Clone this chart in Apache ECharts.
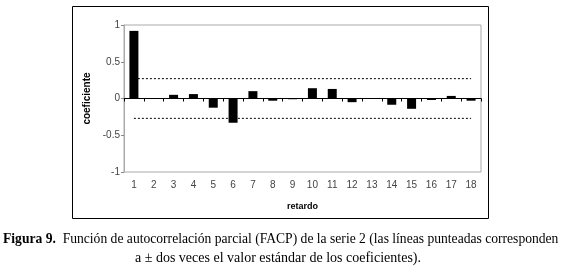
<!DOCTYPE html>
<html>
<head>
<meta charset="utf-8">
<script src="https://cdn.jsdelivr.net/npm/echarts@6/dist/echarts.min.js"></script>
<style>
  html, body { margin: 0; padding: 0; background: #fff; }
  #chart { width: 572px; height: 268px; }
</style>
</head>
<body>
<div id="chart"></div>
<script>
// retardos (lags) 1..18
const lags = ['1', '2', '3', '4', '5', '6', '7', '8', '9', '10', '11', '12', '13', '14', '15', '16', '17', '18']
// coeficientes FACP
const facp = [0.92, 0, 0.05, 0.06, -0.125, -0.33, 0.10, -0.03, -0.01, 0.14, 0.13, -0.05, 0, -0.085, -0.14, -0.02, 0.035, -0.03]
// límites ± 2 errores estándar
const upperLimit = [0.27, 0.27, 0.27, 0.27, 0.27, 0.27, 0.27, 0.27, 0.27, 0.27, 0.27, 0.27, 0.27, 0.27, 0.27, 0.27, 0.27, 0.27]
const lowerLimit = [-0.27, -0.27, -0.27, -0.27, -0.27, -0.27, -0.27, -0.27, -0.27, -0.27, -0.27, -0.27, -0.27, -0.27, -0.27, -0.27, -0.27, -0.27]

const chart = echarts.init(document.getElementById('chart'))

const option = {
  animation: false,
  backgroundColor: '#fff',
  grid: {
    left: 124,
    top: 25,
    right: 91,
    bottom: 96,
    show: true,
    borderColor: '#aaa',
    borderWidth: 1,
    backgroundColor: '#fff'
  },
  xAxis: [
    {
      type: 'category',
      data: lags,
      position: 'bottom',
      axisLine: { show: false, onZero: false },
      axisTick: { show: false },
      axisLabel: { color: '#444', fontSize: 10, fontFamily: 'Liberation Sans Narrow, Arial, sans-serif', margin: 8, interval: 0 },
      name: 'retardo',
      nameLocation: 'middle',
      nameGap: 30,
      nameTextStyle: { color: '#000', fontSize: 9, fontWeight: 'bold', fontFamily: 'Liberation Sans, Arial, sans-serif' }
    },
    {
      type: 'category',
      data: lags,
      position: 'top',
      axisLine: { show: true, onZero: true, lineStyle: { color: '#000', width: 1 } },
      axisTick: { show: true, inside: true, length: 3, lineStyle: { color: '#000' } },
      axisLabel: { show: false }
    }
  ],
  yAxis: {
    type: 'value',
    min: -1,
    max: 1,
    interval: 0.5,
    axisLine: { show: true, lineStyle: { color: '#aaa' } },
    axisTick: { show: true, length: 3, lineStyle: { color: '#888' } },
    splitLine: { show: false },
    axisLabel: { color: '#444', fontSize: 10, fontFamily: 'Liberation Sans Narrow, Arial, sans-serif', margin: 4 },
    name: 'coeficiente',
    nameLocation: 'middle',
    nameGap: 26,
    nameTextStyle: { color: '#000', fontSize: 10, fontWeight: 'bold', fontFamily: 'Liberation Sans, Arial, sans-serif' }
  },
  series: [
    {
      type: 'bar',
      data: facp,
      xAxisIndex: 0,
      barWidth: 9,
      itemStyle: { color: '#000' }
    },
    {
      type: 'line',
      data: upperLimit,
      xAxisIndex: 0,
      symbol: 'none',
      lineStyle: { color: '#000', width: 1, type: [2, 2] }
    },
    {
      type: 'line',
      data: lowerLimit,
      xAxisIndex: 0,
      symbol: 'none',
      lineStyle: { color: '#000', width: 1, type: [2, 2] }
    }
  ],
  graphic: [
    {
      type: 'rect',
      shape: { x: 72.5, y: 6.5, width: 416, height: 212 },
      style: { fill: null, stroke: '#000', lineWidth: 1 },
      z: 100
    },
    {
      type: 'text',
      left: 3,
      top: 232,
      style: {
        text: '{b|Figura 9.}  Función de autocorrelación parcial (FACP) de la serie 2 (las líneas punteadas corresponden',
        font: '13.6px "Liberation Serif", "Times New Roman", serif',
        fill: '#000',
        rich: {
          b: { fontWeight: 'bold', fontSize: 13.6, fontFamily: 'Liberation Serif' }
        }
      }
    },
    {
      type: 'text',
      x: 278,
      y: 251,
      style: {
        text: 'a ± dos veces el valor estándar de los coeficientes).',
        font: '14px "Liberation Serif", "Times New Roman", serif',
        fill: '#000',
        align: 'center'
      }
    }
  ]
}

chart.setOption(option)
</script>
</body>
</html>
